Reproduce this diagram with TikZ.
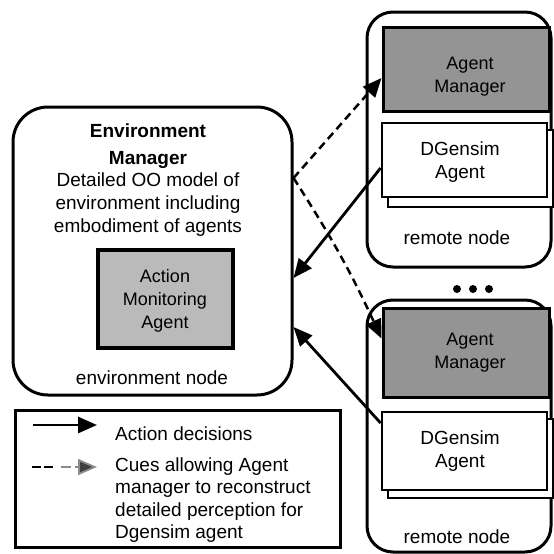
\documentclass[tikz,border=0pt]{standalone}
\usepackage{fontspec}
\setmainfont{Liberation Sans}
\usetikzlibrary{arrows.meta,calc}
\begin{document}
\begin{tikzpicture}[x=1pt,y=-1pt,
  txt/.style={font=\fontsize{19}{23}\selectfont, align=center, inner sep=0pt},
  gtxt/.style={font=\fontsize{18}{23}\selectfont, align=center, inner sep=0pt},
  bigbox/.style={draw, line width=3pt, rounded corners=35pt, inner sep=0pt},
  remotebox/.style={draw, line width=3pt, rounded corners=26pt, inner sep=0pt, minimum width=184pt},
  mgrbox/.style={draw, line width=3pt, fill=black!42, inner sep=0pt, minimum width=166pt},
  agbox/.style={draw, line width=2.8pt, fill=white, inner sep=0pt, minimum width=165pt},
  monbox/.style={draw, line width=3.2pt, fill=black!27, inner sep=0pt, minimum width=135pt, minimum height=98pt},
  legbox/.style={draw, line width=3pt, inner sep=0pt, minimum width=325pt, minimum height=137pt},
  act/.style={line width=2.8pt, -{Triangle[length=19pt,width=16pt]}},
  cue/.style={line width=2.5pt, dash pattern=on 8pt off 5pt, -{Triangle[length=19pt,width=16pt]}},
  dotmark/.style={circle, fill=black, inner sep=0pt, minimum size=8pt}
]
\useasboundingbox (0,0) rectangle (554,554);

% environment node
\node[bigbox, minimum width=279pt, minimum height=288pt] (env) at (152.5,251) {};
\node[txt, font=\fontsize{19}{27}\selectfont\bfseries] (envtitle) at (148,146.5) {Environment\\Manager};
\node[txt] (envdesc) at (148,205) {Detailed OO model of\\environment including\\embodiment of agents};
\node[monbox] (mon) at (165.5,299) {};
\node[gtxt] (montxt) at (165,301) {Action\\Monitoring\\Agent};
\node[txt] (envlabel) at (152,378) {environment node};

% remote node 1
\node[remotebox, minimum height=255pt] (rem1) at (459,139.5) {};
\node[mgrbox, minimum height=84pt] (am1) at (466,69) {};
\node[gtxt] (am1txt) at (470,76.5) {Agent\\Manager};
\node[agbox, minimum height=77pt] (dg1s) at (470.5,168.5) {};
\node[agbox, minimum height=74pt] (dg1) at (464.5,160) {};
\node[txt] (dg1txt) at (460,162.5) {DGensim\\Agent};
\node[txt] (rem1label) at (457,238) {remote node};

% dots
\node[dotmark] (d1) at (457,289) {};
\node[dotmark] (d2) at (473,289) {};
\node[dotmark] (d3) at (489,289) {};

% remote node 2
\node[remotebox, minimum height=252pt] (rem2) at (459,426) {};
\node[mgrbox, minimum height=89pt] (am2) at (466,352.5) {};
\node[gtxt] (am2txt) at (470,352.5) {Agent\\Manager};
\node[agbox, minimum height=79pt] (dg2s) at (470.5,458.5) {};
\node[agbox, minimum height=78pt] (dg2) at (464.5,451) {};
\node[txt] (dg2txt) at (460,451) {DGensim\\Agent};
\node[txt] (rem2label) at (457,537) {remote node};

% connectors
\draw[act] ([yshift=-8pt]dg1.west) -- ([yshift=-27pt]env.east);
\draw[act] ([yshift=28pt]dg2.west) -- ([yshift=-76pt]env.east);
\draw[cue] ([yshift=73pt]env.east) -- ([yshift=-9pt]am1.west);
\draw[cue] ([yshift=73pt]env.east) to[bend left=4] ([yshift=14pt]am2.west);

% legend
\node[legbox] (leg) at (177.5,478.5) {};
\coordinate (la1) at (33,425);
\coordinate (la2) at (97,425);
\draw[act] (la1) -- (la2);
\node[txt, anchor=west, align=left] (legt1) at (115,434) {Action decisions};
\coordinate (lb1) at (32,467);
\coordinate (lb2) at (56,467);
\coordinate (lb3) at (61,467);
\coordinate (lb4) at (97,467);
\draw[line width=2.5pt, dash pattern=on 9pt off 3pt] (lb1) -- (lb2);
\draw[line width=1.8pt, black!45, dash pattern=on 10pt off 4pt, -{Triangle[length=19pt,width=16pt,fill=black!75]}] (lb3) -- (lb4);
\node[txt, font=\fontsize{19}{22.5}\selectfont, anchor=west, align=left] (legt2) at (115,500) {Cues allowing Agent\\manager to reconstruct\\detailed perception for\\Dgensim agent};
\end{tikzpicture}
\end{document}
